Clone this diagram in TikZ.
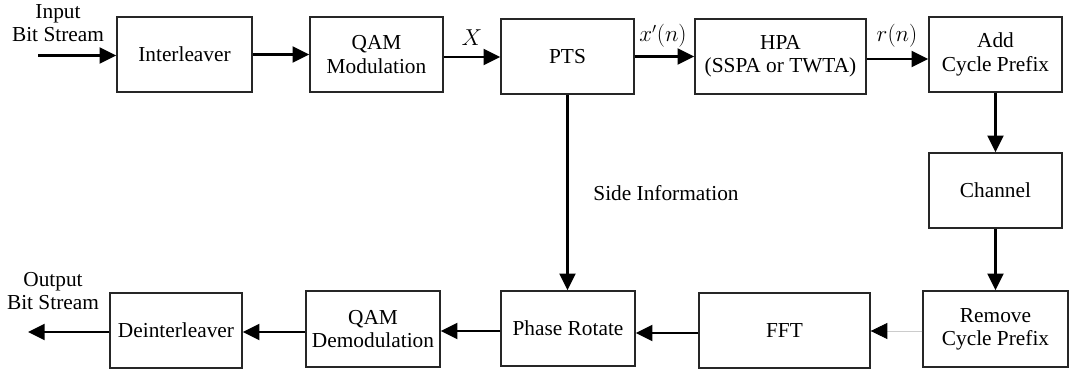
\documentclass[tikz,border=0pt]{standalone}
\usepackage{fontspec}
\setmainfont{Liberation Serif}
\usetikzlibrary{arrows.meta}
\begin{document}
\begin{tikzpicture}[x=0.75pt,y=-0.75pt,
  blk/.style={draw=black!85, line width=1.05pt, minimum height=56.25pt, inner sep=0pt, align=center, font=\rmfamily\fontsize{16}{17.5}\selectfont},
  lbl/.style={align=center, inner sep=0pt, font=\rmfamily\fontsize{16}{17.5}\selectfont},
  arr/.style={line width=1.6pt, -{Triangle[length=12.5pt,width=12pt]}},
  lightarr/.style={line width=0.6pt, draw=black!20, -{Triangle[length=12.5pt,width=12pt,color=black]}}]
\useasboundingbox (0,0) rectangle (1072,374);
% top row
\node[blk, minimum width=101.25pt] (inter) at (184.5,54.5) {Interleaver};
\node[blk, minimum width=99.75pt] (qam) at (376.5,54.5) {QAM\\Modulation};
\node[blk, minimum width=99.75pt] (pts) at (567.5,56.5) {PTS};
\node[blk, minimum width=128.25pt] (hpa) at (780.5,56.5) {HPA\\(SSPA or TWTA)};
\node[blk, minimum width=99.75pt] (add) at (995.5,54.5) {Add\\Cycle Prefix};
% right column
\node[blk, minimum width=99.75pt] (chan) at (995.5,190.5) {Channel};
\node[blk, minimum width=108.75pt, minimum height=57pt] (rem) at (995.5,329) {Remove\\Cycle Prefix};
% bottom row
\node[blk, minimum width=128.25pt] (fft) at (784.5,330.5) {FFT};
\node[blk, minimum width=100.5pt] (phase) at (568,328.5) {Phase Rotate};
\node[blk, minimum width=100.5pt, minimum height=57pt] (qamd) at (373,329) {QAM\\Demodulation};
\node[blk, minimum width=99pt] (deint) at (176,330.5) {Deinterleaver};
% free ends
\coordinate (in) at (38,55.5);
\coordinate (out) at (28,332);
% labels
\node[lbl] (inlbl) at (58,23) {Input\\Bit Stream};
\node[lbl] (outlbl) at (53,291) {Output\\Bit Stream};
\node[lbl] (xl) at (472,38) {$X$};
\node[lbl] (xpl) at (663,36) {$x'(n)$};
\node[lbl] (rl) at (897,36) {$r(n)$};
\node[lbl] (side) at (666,193) {Side Information};
% connectors
\draw[arr] (in) -- (in -| inter.west);
\draw[arr] (inter.east) -- (inter.east -| qam.west);
\draw[arr] (qam.east |- 0,57) -- (pts.west |- 0,57);
\draw[arr] (pts.east) -- (pts.east -| hpa.west);
\draw[arr] (hpa.east |- 0,59) -- (add.west |- 0,59);
\draw[arr] (add.south) -- (chan.north);
\draw[arr] (chan.south) -- (rem.north);
\draw[lightarr] (rem.west |- 0,331) -- (fft.east |- 0,331);
\draw[arr] (fft.west |- 0,333) -- (phase.east |- 0,333);
\draw[arr] (pts.south) -- (phase.north -| pts.south);
\draw[arr] (phase.west |- 0,331) -- (qamd.east |- 0,331);
\draw[arr] (qamd.west |- 0,332) -- (deint.east |- 0,332);
\draw[arr] (deint.west |- 0,332) -- (out);
\end{tikzpicture}
\end{document}
